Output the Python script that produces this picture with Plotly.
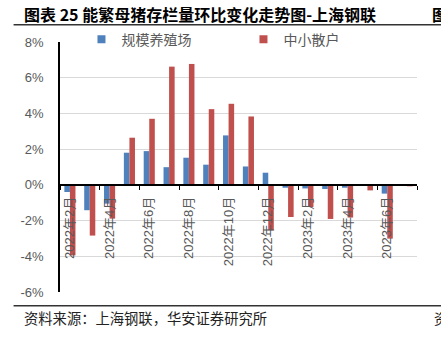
import plotly.graph_objects as go

months = ["2022年2月", "2022年3月", "2022年4月", "2022年5月", "2022年6月", "2022年7月",
          "2022年8月", "2022年9月", "2022年10月", "2022年11月", "2022年12月", "2023年1月",
          "2023年2月", "2023年3月", "2023年4月", "2023年5月", "2023年6月", "2023年7月"]
large_farms = [-0.40, -1.42, -1.05, 1.80, 1.89, 0.99, 1.52, 1.13, 2.77, 1.03, 0.68, -0.16,
               -0.20, -0.23, -0.16, 0.00, -0.49, 0.00]
small_farms = [-3.95, -2.84, -1.89, 2.64, 3.70, 6.62, 6.77, 4.24, 4.54, 3.83, -2.54, -1.80,
               -1.24, -1.91, -1.83, -0.31, -3.01, -0.08]
y_ticks = [-6, -4, -2, 0, 2, 4, 6, 8]
series_names = ["规模养殖场", "中小散户"]
series_colors = ["#4F81BD", "#C0504D"]

title_text = "图表 25 能繁母猪存栏量环比变化走势图-上海钢联"
source_text = "资料来源：上海钢联，华安证券研究所"

FW, FH = 441, 338
L, R, T, B = 59.5, 24, 42.3, 45.7
W = FW - L - R
H = FH - T - B

def px_x(px):
    return (px - L) / W

def px_y(py):
    return 1 - (py - T) / H

FONT = "Liberation Sans, Arial, Noto Sans CJK SC, sans-serif"
GRAY = "#595959"

xidx = list(range(len(months)))

fig = go.Figure()
for name, vals, col in zip(series_names, [large_farms, small_farms], series_colors):
    fig.add_trace(go.Bar(x=xidx, y=vals, name=name, marker_color=col,
                         marker_line_width=0, showlegend=False, legendgroup=name))
# legend entries with small square symbols (as in the reference)
for name, col in zip(series_names, series_colors):
    fig.add_trace(go.Scatter(x=[None], y=[None], mode="markers", name=name, legendgroup=name,
                             marker=dict(symbol="square", size=8, color=col)))

ymin, ymax = y_ticks[0], y_ticks[-1]
zero_pos = (0 - ymin) / (ymax - ymin)

fig.update_layout(
    width=FW, height=FH,
    margin=dict(l=L, r=R, t=T, b=B, pad=0),
    paper_bgcolor="white", plot_bgcolor="white",
    barmode="group", bargap=0.44, bargroupgap=0,
    font=dict(family=FONT, color=GRAY, size=13),
    showlegend=True,
    legend=dict(orientation="h", x=px_x(81), y=px_y(40), xanchor="left", yanchor="middle",
                font=dict(size=14, color=GRAY, family="Noto Sans CJK SC, sans-serif"),
                entrywidth=117, entrywidthmode="pixels", itemwidth=30,
                bgcolor="rgba(0,0,0,0)", tracegroupgap=0),
    xaxis=dict(
        range=[-0.5, len(months) - 0.5],
        anchor="free", position=zero_pos,
        showline=True, linecolor="black", linewidth=1.6,
        showgrid=False, zeroline=False,
        tickmode="array", tickvals=xidx[::2], ticktext=months[::2],
        tickangle=-90, ticks="", ticklabelstandoff=6,
        tickfont=dict(size=13, color=GRAY),
        minor=dict(tickmode="array", tickvals=[i - 0.5 for i in xidx[::2]] + [len(months) - 0.5],
                   ticks="outside", ticklen=4, tickcolor="black", tickwidth=1.4, showgrid=False),
    ),
    yaxis=dict(
        range=[ymin, ymax],
        showline=True, linecolor="black", linewidth=1.8,
        showgrid=True, gridcolor="#D9D9D9", gridwidth=1,
        zeroline=False,
        tickmode="array", tickvals=y_ticks, ticktext=[f"{v}%" for v in y_ticks],
        ticks="", ticklabelstandoff=12,
        tickfont=dict(size=13, color=GRAY),
    ),
)

# title, rules and source
fig.add_annotation(text="<b>" + title_text + "</b>", xref="paper", yref="paper",
                   x=px_x(21), y=px_y(14), xanchor="left", yanchor="middle", showarrow=False,
                   font=dict(size=16, color="black", family="Noto Sans CJK SC, sans-serif"))
fig.add_annotation(text="<b>图</b>", xref="paper", yref="paper",
                   x=px_x(430), y=px_y(14), xanchor="left", yanchor="middle", showarrow=False,
                   font=dict(size=16, color="black", family="Noto Sans CJK SC, sans-serif"))
fig.add_annotation(text=source_text, xref="paper", yref="paper",
                   x=px_x(21), y=px_y(318), xanchor="left", yanchor="middle", showarrow=False,
                   font=dict(size=14.3, color="#222222", family="Noto Sans CJK SC, sans-serif"))
fig.add_annotation(text="资", xref="paper", yref="paper",
                   x=px_x(432), y=px_y(318), xanchor="left", yanchor="middle", showarrow=False,
                   font=dict(size=14, color="#222222", family="Noto Sans CJK SC, sans-serif"))
fig.add_shape(type="line", xref="paper", yref="paper", x0=px_x(13), x1=px_x(441),
              y0=px_y(25), y1=px_y(25), line=dict(color="#333333", width=1.5))
fig.add_shape(type="line", xref="paper", yref="paper", x0=px_x(13), x1=px_x(441),
              y0=px_y(306), y1=px_y(306), line=dict(color="#333333", width=1.5))

fig.write_html("out.html")
